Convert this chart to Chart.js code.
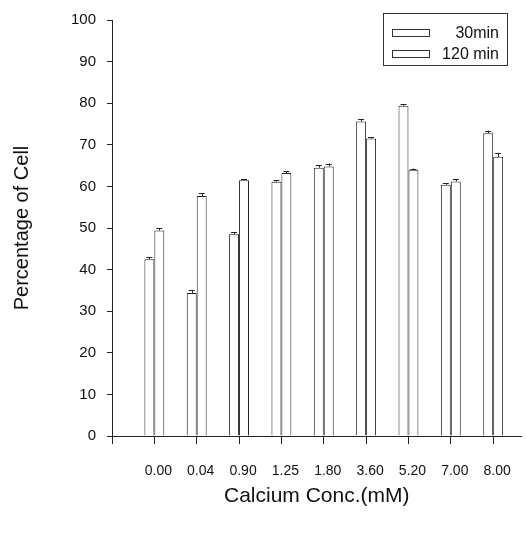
<!DOCTYPE html>
<html>
<head>
<meta charset="utf-8">
<script src="https://cdn.jsdelivr.net/npm/chart.js@4"></script>
<style>
  body { margin: 0; background: #fff; }
  #wrap { position: relative; width: 526px; height: 533px; }
  #legend {
    position: absolute; left: 383px; top: 13px; width: 125px; height: 53px;
    border: 1px solid #333; font-family: "Liberation Sans", Arial, sans-serif;
    font-size: 16px; color: #111; box-sizing: border-box;
  }
  .item { position: absolute; left: 8px; right: 8px; height: 20px; }
  .sw { position: absolute; left: 0; top: 6px; width: 38px; height: 8px; border: 1px solid #333; box-sizing: border-box; background: #fff; }
  .lbl { position: absolute; right: 0; top: 1px; }
</style>
</head>
<body>
<div id="wrap">
  <canvas id="myChart" width="526" height="533"></canvas>
  <div id="legend"></div>
</div>
<script>
const categorias = ['0.00', '0.04', '0.90', '1.25', '1.80', '3.60', '5.20', '7.00', '8.00'];
const serie30 = [42.5, 34.4, 48.5, 61.1, 64.5, 75.6, 79.4, 60.4, 72.8];
const erro30 = [0.5, 0.7, 0.5, 0.4, 0.6, 0.6, 0.3, 0.3, 0.6];
const serie120 = [49.4, 57.7, 61.5, 63.2, 64.8, 71.5, 64.0, 61.2, 67.1];
const erro120 = [0.5, 0.7, 0.3, 0.4, 0.7, 0.3, 0.3, 0.5, 1.0];
const ticksY = [0, 10, 20, 30, 40, 50, 60, 70, 80, 90, 100];

const fonte = '"Liberation Sans", Arial, sans-serif';
const preto = '#222';

// barras num eixo linear: categoria i fica em x = i + 1
const pontos = (vals) => vals.map((v, i) => ({ x: i + 1, y: v }));

// desenha as barras de erro (T em cima de cada barra)
const barrasErro = {
  id: 'barrasErro',
  afterDatasetsDraw(chart) {
    const ctx = chart.ctx;
    const y = chart.scales.y;
    chart.data.datasets.forEach((ds, d) => {
      const meta = chart.getDatasetMeta(d);
      meta.data.forEach((bar, i) => {
        const topo = y.getPixelForValue(ds.data[i].y + ds.erros[i]);
        ctx.save();
        ctx.strokeStyle = preto;
        ctx.lineWidth = 1;
        ctx.beginPath();
        ctx.moveTo(Math.round(bar.x) + 0.5, bar.y);
        ctx.lineTo(Math.round(bar.x) + 0.5, topo);
        ctx.moveTo(bar.x - 3, Math.round(topo) + 0.5);
        ctx.lineTo(bar.x + 3, Math.round(topo) + 0.5);
        ctx.stroke();
        ctx.restore();
      });
    });
  }
};

const ctx = document.getElementById('myChart');

const grafico = new Chart(ctx, {
  type: 'bar',
  data: {
    datasets: [{
      label: '30min',
      data: pontos(serie30),
      erros: erro30,
      backgroundColor: '#fff',
      borderColor: preto,
      borderWidth: 1
    }, {
      label: '120 min',
      data: pontos(serie120),
      erros: erro120,
      backgroundColor: '#fff',
      borderColor: preto,
      borderWidth: 1
    }]
  },
  options: {
    responsive: false,
    animation: false,
    categoryPercentage: 0.47,
    barPercentage: 1,
    layout: { padding: { top: 18, right: 3, left: 0, bottom: 0 } },
    plugins: {
      legend: { display: false },
      tooltip: { enabled: false }
    },
    scales: {
      x: {
        type: 'linear',
        offset: false,
        min: 0,
        max: 9.67,
        afterFit: (s) => { s.height = 97; },
        grid: { offset: false, drawOnChartArea: false, tickLength: 8, color: preto },
        border: { color: preto },
        ticks: {
          stepSize: 1,
          includeBounds: false,
          padding: 19,
          labelOffset: 4,
          color: '#111',
          font: { family: fonte, size: 14 },
          callback: (v) => categorias[v - 1] || ''
        },
        title: {
          display: true,
          text: 'Calcium Conc.(mM)',
          color: '#111',
          font: { family: fonte, size: 21 },
          padding: { top: 0, bottom: 24 }
        }
      },
      y: {
        min: 0,
        max: 100,
        afterFit: (s) => { s.width = 112; },
        afterBuildTicks: (s) => { s.ticks = ticksY.map(v => ({ value: v })); },
        grid: { drawOnChartArea: false, tickLength: 5, color: preto },
        border: { color: preto },
        ticks: {
          padding: 11,
          color: '#111',
          font: { family: fonte, size: 15 }
        },
        title: {
          display: true,
          text: 'Percentage of Cell',
          color: '#111',
          font: { family: fonte, size: 20 },
          padding: { top: 10, bottom: 0 }
        }
      }
    }
  },
  plugins: [barrasErro]
});

// legenda em HTML a partir dos datasets
const legenda = document.getElementById('legend');
grafico.data.datasets.forEach((ds, i) => {
  const item = document.createElement('div');
  item.className = 'item';
  item.style.top = (i === 0 ? 9 : 30) + 'px';
  item.innerHTML = '<span class="sw"></span><span class="lbl"></span>';
  item.querySelector('.lbl').textContent = ds.label;
  legenda.appendChild(item);
});
</script>
</body>
</html>
